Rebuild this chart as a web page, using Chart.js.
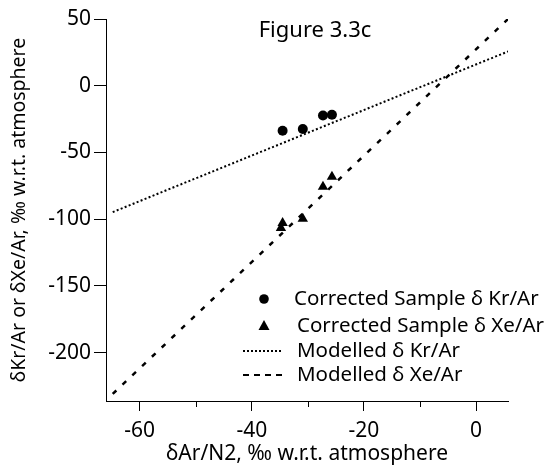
<!DOCTYPE html>
<html>
<head>
<meta charset="utf-8">
<script src="https://cdn.jsdelivr.net/npm/chart.js@4/dist/chart.umd.min.js"></script>
<style>
  html, body { margin: 0; padding: 0; background: #fff; }
  #wrap { width: 555px; height: 467px; }
</style>
</head>
<body>
<div id="wrap"><canvas id="grafico"></canvas></div>
<script>
// Dados
const amostraKrX = [-34.5, -30.9, -27.3, -25.7];
const amostraKrY = [-33.8, -32.5, -22.3, -21.8];
const amostraXeX = [-25.7, -27.3, -30.9, -34.5, -34.8];
const amostraXeY = [-68.3, -75.8, -99.8, -102.8, -106.6];
const modeloKrX = [-64.8, 5.9];
const modeloKrY = [-94.7, 26.0];
const modeloXeX = [-64.8, 5.7];
const modeloXeY = [-231.0, 50.0];
const ticksX = [-60, -50, -40, -30, -20, -10, 0];
const ticksY = [50, 0, -50, -100, -150, -200];
const titulo = 'Figure 3.3c';
const tituloX = 'δAr/N2, ‰ w.r.t. atmosphere';
const tituloY = 'δKr/Ar or δXe/Ar, ‰ w.r.t. atmosphere';

const fonte = 'Noto Sans';

function pares(xs, ys) {
    return xs.map((x, i) => ({ x: x, y: ys[i] }));
}

const ehMaior = v => v % 20 === 0;

// Título, legenda e ticks menores
const extras = {
    id: 'extras',
    afterDraw(chart) {
        const ctx = chart.ctx;
        const sx = chart.scales.x;
        ctx.save();
        ctx.fillStyle = '#000';
        ctx.strokeStyle = '#000';

        // ticks menores
        ctx.lineWidth = 1;
        ticksX.filter(v => !ehMaior(v)).forEach(v => {
            const px = Math.round(sx.getPixelForValue(v)) + 0.5;
            ctx.beginPath();
            ctx.moveTo(px, sx.top);
            ctx.lineTo(px, sx.top + 6);
            ctx.stroke();
        });

        ctx.font = '22px "' + fonte + '"';
        ctx.textAlign = 'center';
        ctx.textBaseline = 'middle';
        ctx.fillText(titulo, 315, 31);

        // legenda
        const ds = chart.data.datasets;
        ctx.font = '20.5px "' + fonte + '"';
        ctx.textAlign = 'left';

        ctx.beginPath();
        ctx.arc(264, 299, 4.8, 0, Math.PI * 2);
        ctx.fill();
        ctx.fillText(ds[0].label, 294, 299);

        ctx.beginPath();
        ctx.moveTo(264, 320);
        ctx.lineTo(269.5, 330);
        ctx.lineTo(258.5, 330);
        ctx.closePath();
        ctx.fill();
        ctx.fillText(ds[1].label, 297, 326);

        ctx.lineWidth = 2;
        ctx.setLineDash([2, 2]);
        ctx.beginPath();
        ctx.moveTo(243, 351);
        ctx.lineTo(283, 351);
        ctx.stroke();
        ctx.fillText(ds[2].label, 297, 351);

        ctx.setLineDash([6, 5]);
        ctx.beginPath();
        ctx.moveTo(243, 375);
        ctx.lineTo(283, 375);
        ctx.stroke();
        ctx.fillText(ds[3].label, 297, 375);
        ctx.restore();
    }
};

const ctx = document.getElementById('grafico').getContext('2d');
new Chart(ctx, {
    type: 'scatter',
    data: {
        datasets: [
            {
                label: 'Corrected Sample δ Kr/Ar',
                data: pares(amostraKrX, amostraKrY),
                pointStyle: 'circle',
                pointRadius: 5,
                backgroundColor: '#000',
                borderColor: '#000',
                borderWidth: 0
            },
            {
                label: 'Corrected Sample δ Xe/Ar',
                data: pares(amostraXeX, amostraXeY),
                pointStyle: 'triangle',
                pointRadius: 6,
                backgroundColor: '#000',
                borderColor: '#000',
                borderWidth: 0
            },
            {
                label: 'Modelled δ Kr/Ar',
                data: pares(modeloKrX, modeloKrY),
                showLine: true,
                pointRadius: 0,
                borderColor: '#000',
                borderWidth: 2,
                borderDash: [2, 2.3]
            },
            {
                label: 'Modelled δ Xe/Ar',
                data: pares(modeloXeX, modeloXeY),
                showLine: true,
                pointRadius: 0,
                borderColor: '#000',
                borderWidth: 2.5,
                borderDash: [5, 8.5]
            }
        ]
    },
    options: {
        responsive: true,
        maintainAspectRatio: false,
        animation: false,
        layout: { padding: { top: 19, right: 47, left: 0, bottom: 0 } },
        plugins: {
            legend: { display: false },
            tooltip: { enabled: false }
        },
        scales: {
            x: {
                type: 'linear',
                min: -66,
                max: 5.7,
                afterBuildTicks: s => { s.ticks = ticksX.map(v => ({ value: v })); },
                afterFit: s => { s.height = 66; },
                ticks: {
                    color: '#000',
                    font: { family: fonte, size: 21 },
                    padding: 7,
                    maxRotation: 0,
                    autoSkip: false,
                    callback: v => ehMaior(v) ? String(v) : ''
                },
                grid: {
                    drawOnChartArea: false,
                    tickLength: 10,
                    color: c => (c.tick && ehMaior(c.tick.value)) ? '#000' : 'rgba(0,0,0,0)'
                },
                border: { color: '#000', width: 1 },
                title: {
                    display: true,
                    text: tituloX,
                    color: '#000',
                    font: { family: fonte, size: 21 },
                    padding: { top: 0, bottom: 0 }
                }
            },
            y: {
                type: 'linear',
                min: -236.3,
                max: 50,
                afterBuildTicks: s => { s.ticks = ticksY.map(v => ({ value: v })); },
                afterFit: s => { s.width = 106; },
                ticks: {
                    color: '#000',
                    font: { family: fonte, size: 21 },
                    padding: 3,
                    autoSkip: false
                },
                grid: {
                    drawOnChartArea: false,
                    tickLength: 12,
                    color: '#000'
                },
                border: { color: '#000', width: 1 },
                title: {
                    display: true,
                    text: tituloY,
                    color: '#000',
                    font: { family: fonte, size: 19.5 },
                    padding: { top: 8, bottom: 0 }
                }
            }
        }
    },
    plugins: [extras]
});
</script>
</body>
</html>
